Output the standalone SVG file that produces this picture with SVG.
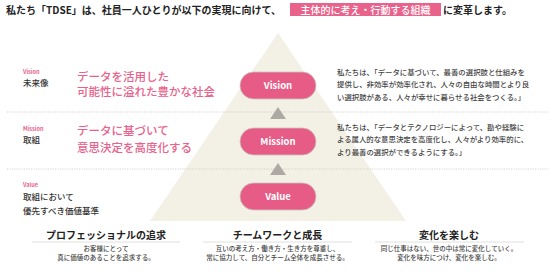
<svg xmlns="http://www.w3.org/2000/svg" width="550" height="274" viewBox="0 0 550 274">
<style>
text{font-family:"Noto Sans CJK JP","Noto Sans",sans-serif}
.hd{font-size:10px;font-weight:700;fill:#222}
.tag{font-size:5.5px;font-weight:700;fill:#e8628b}
.lbl{font-size:8.5px;font-weight:500;fill:#333}
.big{font-size:11.5px;font-weight:500;fill:#e8628b}
.desc{font-size:7.4px;font-weight:500;fill:#444}
.pill{fill:#e65c86;stroke:#c9c3bb;stroke-width:0.8}
.pt{font-size:9.5px;font-weight:700;fill:#fff;text-anchor:middle}
.arr{fill:#aeaaa3}
.dot{stroke:#c8c8c8;stroke-width:0.8;stroke-dasharray:1.2 1.2}
.tt{font-size:10px;font-weight:700;fill:#222;text-anchor:middle}
.ul{stroke:#e0e0e0;stroke-width:1}
.st{font-size:6.5px;font-weight:500;fill:#444;text-anchor:middle}
</style>
<rect width="550" height="274" fill="#fff"/>
<g id="header">
<text class="hd" x="6" y="13.5">私たち「TDSE」は、社員一人ひとりが以下の実現に向けて、</text>
<rect x="290" y="3" width="151" height="13" fill="#e8628b"/>
<text class="hd" x="365.5" y="13.5" text-anchor="middle" style="fill:#fff;font-weight:500">主体的に考え・行動する組織</text>
<text class="hd" x="443" y="13.5">に変革します。</text>
</g>
<g id="pyramid">
<polygon points="278,33 150,221 406,221" fill="#f3f0e5"/>
</g>
<g id="connectors">
<line class="dot" x1="7" y1="112" x2="548" y2="112"/>
<line class="dot" x1="7" y1="169" x2="548" y2="169"/>
<polygon class="arr" points="278,107 270,119 286,119"/>
<polygon class="arr" points="278,163 270,175 286,175"/>
</g>
<g id="vision">
<text class="tag" x="23" y="74">Vision</text>
<text class="lbl" x="23" y="86">未来像</text>
<text class="big" x="77" y="81">データを活用した</text>
<text class="big" x="77" y="95.7">可能性に溢れた豊かな社会</text>
<rect class="pill" x="240" y="72" width="76" height="27" rx="13.5"/>
<text class="pt" x="278" y="88.9">Vision</text>
<text class="desc" x="337" y="74.7">私たちは、「データに基づいて、最善の選択肢と仕組みを</text>
<text class="desc" x="337" y="87.2">提供し、非効率が効率化され、人々の自由な時間とより良</text>
<text class="desc" x="337" y="99.7">い選択肢がある、人々が幸せに暮らせる社会をつくる。」</text>
</g>
<g id="mission">
<text class="tag" x="23" y="131">Mission</text>
<text class="lbl" x="23" y="143">取組</text>
<text class="big" x="77" y="134.7">データに基づいて</text>
<text class="big" x="77" y="151.7">意思決定を高度化する</text>
<rect class="pill" x="240" y="128" width="76" height="27" rx="13.5"/>
<text class="pt" x="278" y="144.9">Mission</text>
<text class="desc" x="337" y="129.7">私たちは、「データとテクノロジーによって、勘や経験に</text>
<text class="desc" x="337" y="142.2">よる属人的な意思決定を高度化し、人々がより効率的に、</text>
<text class="desc" x="337" y="154.7">より最善の選択ができるようにする。」</text>
</g>
<g id="value">
<text class="tag" x="23" y="187">Value</text>
<text class="lbl" x="23" y="199.7">取組において</text>
<text class="lbl" x="23" y="213.7">優先すべき価値基準</text>
<rect class="pill" x="240" y="183" width="76" height="27" rx="13.5"/>
<text class="pt" x="278" y="199.9">Value</text>
</g>
<g id="value-professional">
<text class="tt" x="106" y="238.5">プロフェッショナルの追求</text>
<line class="ul" x1="32" y1="242" x2="180" y2="242"/>
<text class="st" x="106" y="251.3">お客様にとって</text>
<text class="st" x="106" y="260.3">真に価値のあることを追求する。</text>
</g>
<g id="value-teamwork">
<text class="tt" x="277.5" y="238.5">チームワークと成長</text>
<line class="ul" x1="203" y1="242" x2="352" y2="242"/>
<text class="st" x="277.5" y="251.3">互いの考え方・働き方・生き方を尊重し、</text>
<text class="st" x="277.5" y="260.3">常に協力して、自分とチーム全体を成長させる。</text>
</g>
<g id="value-change">
<text class="tt" x="449" y="238.5">変化を楽しむ</text>
<line class="ul" x1="375" y1="242" x2="524" y2="242"/>
<text class="st" x="449" y="251.3">同じ仕事はない、世の中は常に変化していく。</text>
<text class="st" x="449" y="260.3">変化を味方につけ、変化を楽しむ。</text>
</g>
</svg>
